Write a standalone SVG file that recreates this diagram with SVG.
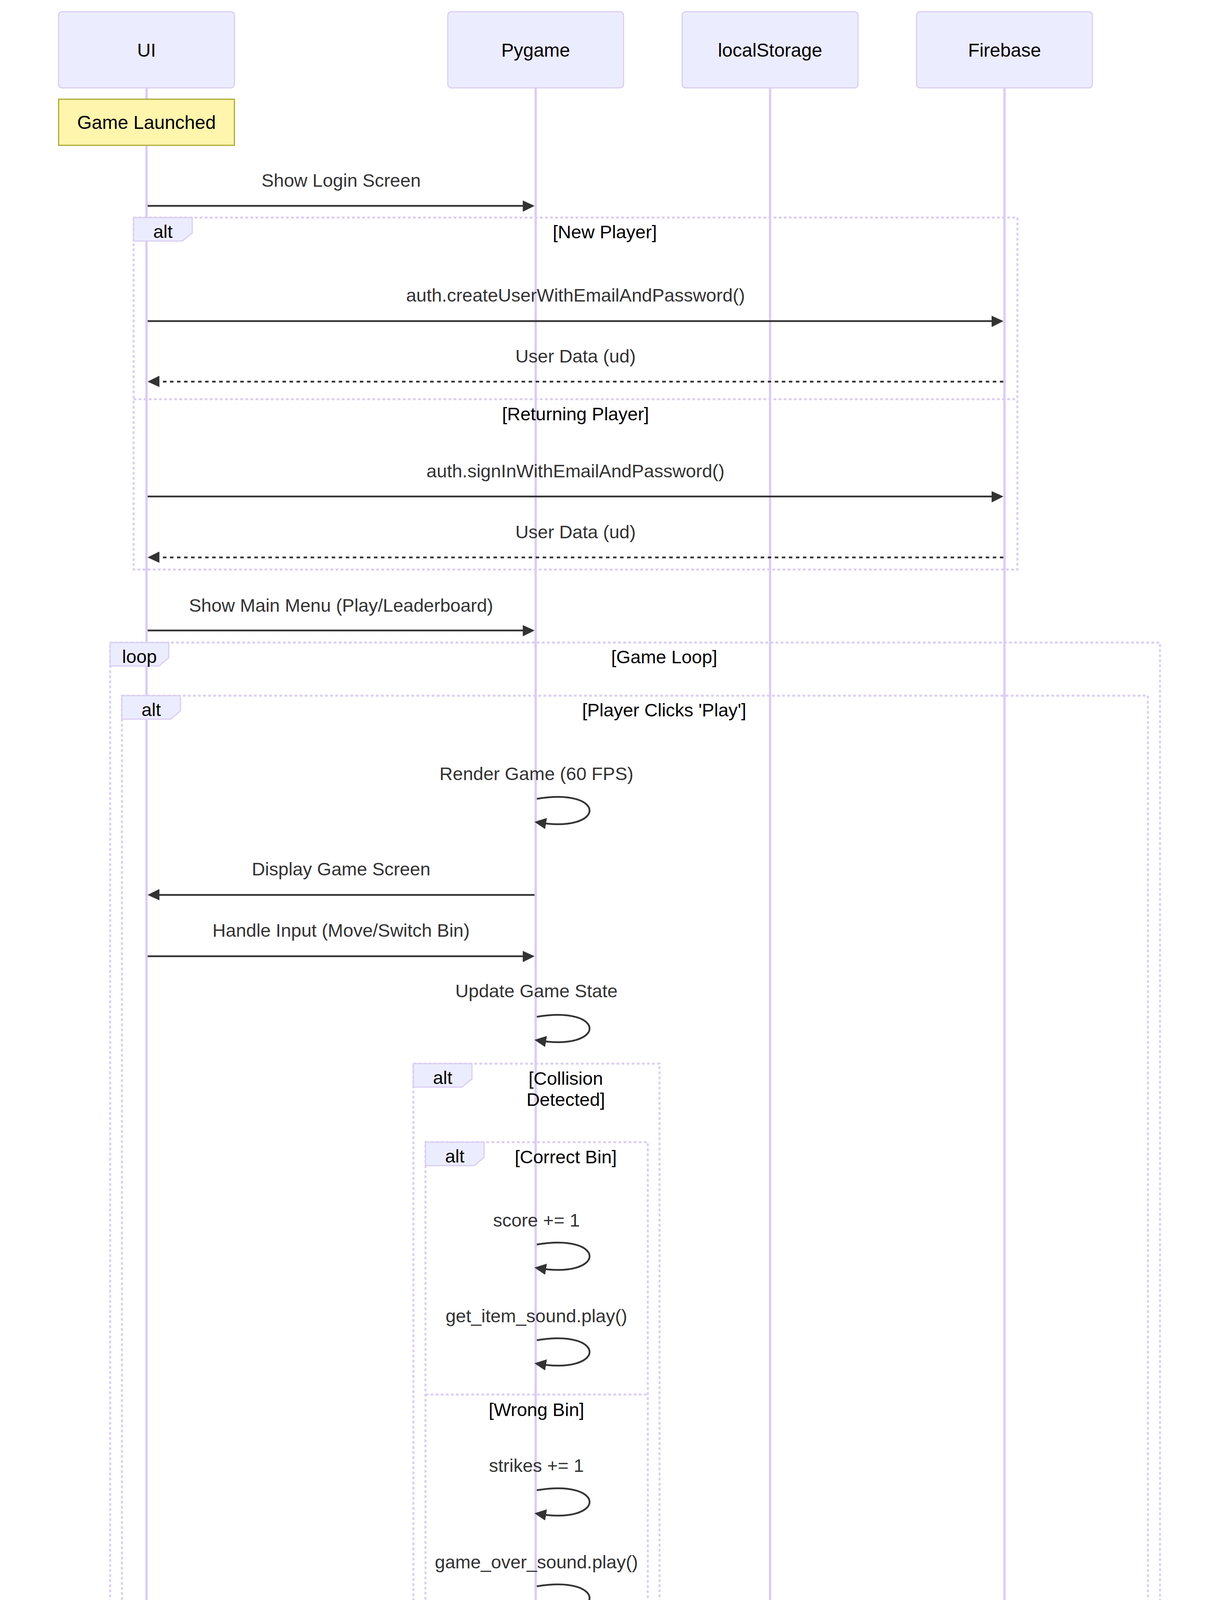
<svg xmlns="http://www.w3.org/2000/svg" width="3120" height="6279" viewBox="0 0 3120 6279">
<defs>
<style>
.bg{fill:#ffffff}
.actor{fill:#ECECFF;stroke:hsl(259.6,59.8%,87.9%);stroke-width:3}
.atext{font-family:"Liberation Sans",Arial,sans-serif;font-size:48px;fill:#000;text-anchor:middle}
.lifeline{stroke:hsl(259.6,59.8%,87.9%);stroke-width:6}
.msg{stroke:#333;stroke-width:4.5;fill:none;marker-end:url(#arrowhead)}
.dash{stroke-dasharray:9 9}
.mtext{font-family:"Liberation Sans",Arial,sans-serif;font-size:47px;fill:#333;text-anchor:middle}
.frame{stroke:hsl(259.6,59.8%,87.9%);stroke-width:5;stroke-dasharray:7 6;fill:none}
.lbox{fill:#ECECFF;stroke:hsl(259.6,59.8%,87.9%);stroke-width:3}
.ltext{font-family:"Liberation Sans",Arial,sans-serif;font-size:47px;fill:#000;text-anchor:middle}
.note{fill:#fff5ad;stroke:#aaaa33;stroke-width:3}
</style>
<marker id="arrowhead" refX="23.7" refY="15" markerWidth="36" markerHeight="36" markerUnits="userSpaceOnUse" orient="auto-start-reverse">
<path d="M -3 0 L 30 15 L 0 30 z" fill="#333"/>
</marker>
</defs>
<rect class="bg" x="0" y="0" width="3120" height="6279"/>

<g id="lifelines">
<line class="lifeline" x1="375" y1="225" x2="375" y2="6051"/>
<line class="lifeline" x1="1371" y1="225" x2="1371" y2="6051"/>
<line class="lifeline" x1="1971" y1="225" x2="1971" y2="6051"/>
<line class="lifeline" x1="2571" y1="225" x2="2571" y2="6051"/>
</g>

<g id="actor-UI-top"><rect class="actor" x="150" y="30" width="450" height="195" rx="9"/><text class="atext" x="375" y="145">UI</text></g>
<g id="actor-Pygame-top"><rect class="actor" x="1146" y="30" width="450" height="195" rx="9"/><text class="atext" x="1371" y="145">Pygame</text></g>
<g id="actor-localStorage-top"><rect class="actor" x="1746" y="30" width="450" height="195" rx="9"/><text class="atext" x="1971" y="145">localStorage</text></g>
<g id="actor-Firebase-top"><rect class="actor" x="2346" y="30" width="450" height="195" rx="9"/><text class="atext" x="2571" y="145">Firebase</text></g>

<g id="note-game-launched"><rect class="note" x="150" y="254" width="450" height="118"/><text class="atext" x="375" y="330">Game Launched</text></g>

<g id="frames">
<g id="alt-login">
<rect class="frame" x="342" y="557" width="2262" height="901"/>
<line class="frame" x1="342" y1="1022" x2="2604" y2="1022"/>
<polygon class="lbox" points="342,557 492,557 492,596 466.8,617 342,617"/>
<text class="ltext" x="417" y="609">alt</text>
<text class="ltext" x="1548" y="610">[New Player]</text>
<text class="ltext" x="1473" y="1076">[Returning Player]</text>
</g>
<g id="loop-game">
<rect class="frame" x="282" y="1645" width="2687" height="4346"/>
<polygon class="lbox" points="282,1645 432,1645 432,1684 406.8,1705 282,1705"/>
<text class="ltext" x="357" y="1697">loop</text>
<text class="ltext" x="1700" y="1698">[Game Loop]</text>
</g>
<g id="alt-play">
<rect class="frame" x="312" y="1781" width="2626" height="4180"/>
<line class="frame" x1="312" y1="4506" x2="2938" y2="4506"/>
<polygon class="lbox" points="312,1781 462,1781 462,1820 436.8,1841 312,1841"/>
<text class="ltext" x="387" y="1833">alt</text>
<text class="ltext" x="1700" y="1834">[Player Clicks 'Play']</text>
<text class="ltext" x="1625" y="4560">[Player Clicks 'Leaderboard']</text>
</g>
<g id="alt-collision">
<rect class="frame" x="1058" y="2723" width="630" height="1579"/>
<polygon class="lbox" points="1058,2723 1208,2723 1208,2762 1182.8,2783 1058,2783"/>
<text class="ltext" x="1133" y="2775">alt</text>
<text class="ltext" x="1448" y="2777">[Collision</text>
<text class="ltext" x="1448" y="2831">Detected]</text>
</g>
<g id="alt-bin">
<rect class="frame" x="1089" y="2924" width="569" height="1349"/>
<line class="frame" x1="1089" y1="3570" x2="1658" y2="3570"/>
<polygon class="lbox" points="1089,2924 1239,2924 1239,2963 1213.8,2984 1089,2984"/>
<text class="ltext" x="1164" y="2976">alt</text>
<text class="ltext" x="1448" y="2978">[Correct Bin]</text>
<text class="ltext" x="1373" y="3625">[Wrong Bin]</text>
</g>
<g id="alt-scores">
<rect class="frame" x="342" y="5031" width="2262" height="743"/>
<line class="frame" x1="342" y1="5496" x2="2604" y2="5496"/>
<polygon class="lbox" points="342,5031 492,5031 492,5070 466.8,5091 342,5091"/>
<text class="ltext" x="417" y="5083">alt</text>
<text class="ltext" x="1548" y="5084">[Scores Exist]</text>
<text class="ltext" x="1473" y="5550">[No Scores]</text>
</g>
</g>

<g id="connectors">
<line class="msg" x1="378" y1="527" x2="1362" y2="527"/>
<line class="msg" x1="378" y1="822" x2="2562" y2="822"/>
<line class="msg dash" x1="2568" y1="977" x2="384" y2="977"/>
<line class="msg" x1="378" y1="1271" x2="2562" y2="1271"/>
<line class="msg dash" x1="2568" y1="1427" x2="384" y2="1427"/>
<line class="msg" x1="378" y1="1614" x2="1362" y2="1614"/>
<path class="msg" d="M 1374 2045 C 1554 2015 1554 2135 1374 2105"/>
<line class="msg" x1="1368" y1="2291" x2="384" y2="2291"/>
<line class="msg" x1="378" y1="2448" x2="1362" y2="2448"/>
<path class="msg" d="M 1374 2603 C 1554 2573 1554 2693 1374 2663"/>
<path class="msg" d="M 1374 3186 C 1554 3156 1554 3276 1374 3246"/>
<path class="msg" d="M 1374 3431 C 1554 3401 1554 3521 1374 3491"/>
<path class="msg" d="M 1374 3815 C 1554 3785 1554 3905 1374 3875"/>
<path class="msg" d="M 1374 4061 C 1554 4031 1554 4151 1374 4121"/>
<line class="msg" x1="1374" y1="4460" x2="2562" y2="4460"/>
<line class="msg" x1="378" y1="4755" x2="2562" y2="4755"/>
<path class="msg" d="M 2574 4909 C 2754 4879 2754 4999 2574 4969"/>
<line class="msg dash" x1="2568" y1="5294" x2="384" y2="5294"/>
<line class="msg" x1="378" y1="5451" x2="1362" y2="5451"/>
<line class="msg" x1="378" y1="5745" x2="1362" y2="5745"/>
<line class="msg" x1="378" y1="5931" x2="1362" y2="5931"/>
</g>

<g id="message-labels">
<text class="mtext" x="873" y="478">Show Login Screen</text>
<text class="mtext" x="1473" y="772">auth.createUserWithEmailAndPassword()</text>
<text class="mtext" x="1473" y="928">User Data (ud)</text>
<text class="mtext" x="1473" y="1222">auth.signInWithEmailAndPassword()</text>
<text class="mtext" x="1473" y="1378">User Data (ud)</text>
<text class="mtext" x="873" y="1566">Show Main Menu (Play/Leaderboard)</text>
<text class="mtext" x="1373" y="1997">Render Game (60 FPS)</text>
<text class="mtext" x="873" y="2241">Display Game Screen</text>
<text class="mtext" x="873" y="2398">Handle Input (Move/Switch Bin)</text>
<text class="mtext" x="1373" y="2553">Update Game State</text>
<text class="mtext" x="1373" y="3140">score += 1</text>
<text class="mtext" x="1373" y="3385">get_item_sound.play()</text>
<text class="mtext" x="1373" y="3768">strikes += 1</text>
<text class="mtext" x="1373" y="4015">game_over_sound.play()</text>
<text class="mtext" x="1971" y="4411">firestore.collection('scores').add([uid, score])</text>
<text class="mtext" x="1473" y="4705">Query Top 10 Scores</text>
<text class="mtext" x="2573" y="4861">orderBy('score', 'DESC').limit(10)</text>
<text class="mtext" x="1473" y="5246">Return Top 10 Scores</text>
<text class="mtext" x="873" y="5401">Display Leaderboard (Ranked 1-10)</text>
<text class="mtext" x="873" y="5695">Display "No scores yet!"</text>
<text class="mtext" x="873" y="5881">Show "Return to Menu" Button</text>
</g>

<g id="actor-UI-bottom"><rect class="actor" x="150" y="6051" width="450" height="195" rx="9"/><text class="atext" x="375" y="6166">UI</text></g>
<g id="actor-Pygame-bottom"><rect class="actor" x="1146" y="6051" width="450" height="195" rx="9"/><text class="atext" x="1371" y="6166">Pygame</text></g>
<g id="actor-localStorage-bottom"><rect class="actor" x="1746" y="6051" width="450" height="195" rx="9"/><text class="atext" x="1971" y="6166">localStorage</text></g>
<g id="actor-Firebase-bottom"><rect class="actor" x="2346" y="6051" width="450" height="195" rx="9"/><text class="atext" x="2571" y="6166">Firebase</text></g>
</svg>
